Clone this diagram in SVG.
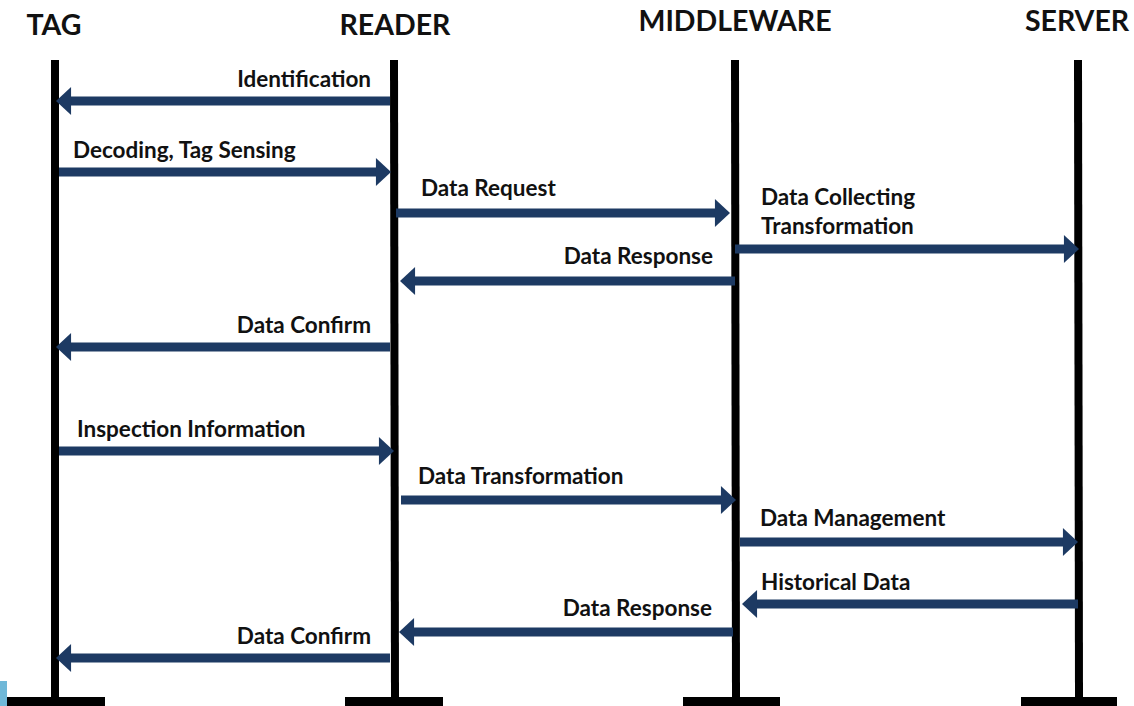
<svg xmlns="http://www.w3.org/2000/svg" width="1134" height="706" viewBox="0 0 1134 706">
<defs>
<style>
.hdr{font-family:Lato,"Open Sans","Liberation Sans",sans-serif;font-weight:bold;font-size:28.5px;fill:#111}
.lbl{font-family:Lato,"Open Sans","Liberation Sans",sans-serif;font-weight:bold;font-size:22.5px;fill:#111}
.life{stroke:#000;stroke-width:8}
.foot{fill:#000}
.msg{stroke:#1d3a63;stroke-width:9;fill:none;marker-end:url(#ah)}
</style>
<marker id="ah" markerUnits="userSpaceOnUse" markerWidth="16" markerHeight="28" viewBox="0 -13 14 26" refX="1" refY="0" orient="auto">
<path d="M0,-13 L14,0 L0,13 Z" fill="#1d3a63"/>
</marker>
</defs>
<rect width="1134" height="706" fill="#fff"/>
<rect x="0" y="681" width="7" height="25" fill="#6fb8d8"/>
<g id="tag">
<text class="hdr" x="54" y="35" text-anchor="middle">TAG</text>
<line class="life" x1="55" y1="60" x2="55" y2="700"/>
<rect class="foot" x="7" y="697" width="98" height="9"/>
</g>
<g id="reader">
<text class="hdr" x="395" y="35" text-anchor="middle">READER</text>
<line class="life" x1="394" y1="60" x2="395" y2="700"/>
<rect class="foot" x="345" y="697" width="98" height="9"/>
</g>
<g id="middleware">
<text class="hdr" x="735" y="31" text-anchor="middle">MIDDLEWARE</text>
<line class="life" x1="735" y1="60" x2="736" y2="700"/>
<rect class="foot" x="683" y="697" width="97" height="9"/>
</g>
<g id="server">
<text class="hdr" x="1077" y="31" text-anchor="middle">SERVER</text>
<line class="life" x1="1078" y1="60" x2="1079" y2="700"/>
<rect class="foot" x="1021" y="697" width="96" height="9"/>
</g>
<g id="connectors">
<line class="msg" x1="390" y1="101" x2="70" y2="101"/>
<line class="msg" x1="59" y1="172" x2="377" y2="172"/>
<line class="msg" x1="396" y1="213" x2="716" y2="213"/>
<line class="msg" x1="735" y1="249" x2="1065" y2="249"/>
<line class="msg" x1="735" y1="281" x2="414" y2="281"/>
<line class="msg" x1="390" y1="347" x2="70" y2="347"/>
<line class="msg" x1="59" y1="451" x2="380" y2="451"/>
<line class="msg" x1="401" y1="500" x2="722" y2="500"/>
<line class="msg" x1="740" y1="542" x2="1064" y2="542"/>
<line class="msg" x1="1078" y1="604" x2="756" y2="604"/>
<line class="msg" x1="733" y1="632" x2="413" y2="632"/>
<line class="msg" x1="390" y1="658" x2="70" y2="658"/>
</g>
<g id="labels">
<text class="lbl" x="371" y="87" text-anchor="end">Identification</text>
<text class="lbl" x="73" y="158">Decoding, Tag Sensing</text>
<text class="lbl" x="421" y="196">Data Request</text>
<text class="lbl" x="761" y="205">Data Collecting</text>
<text class="lbl" x="761" y="234">Transformation</text>
<text class="lbl" x="713" y="264" text-anchor="end">Data Response</text>
<text class="lbl" x="371" y="333" text-anchor="end">Data Confirm</text>
<text class="lbl" x="77" y="437">Inspection Information</text>
<text class="lbl" x="418" y="484">Data Transformation</text>
<text class="lbl" x="760" y="526">Data Management</text>
<text class="lbl" x="761" y="590">Historical Data</text>
<text class="lbl" x="712" y="616" text-anchor="end">Data Response</text>
<text class="lbl" x="371" y="644" text-anchor="end">Data Confirm</text>
</g>
</svg>
